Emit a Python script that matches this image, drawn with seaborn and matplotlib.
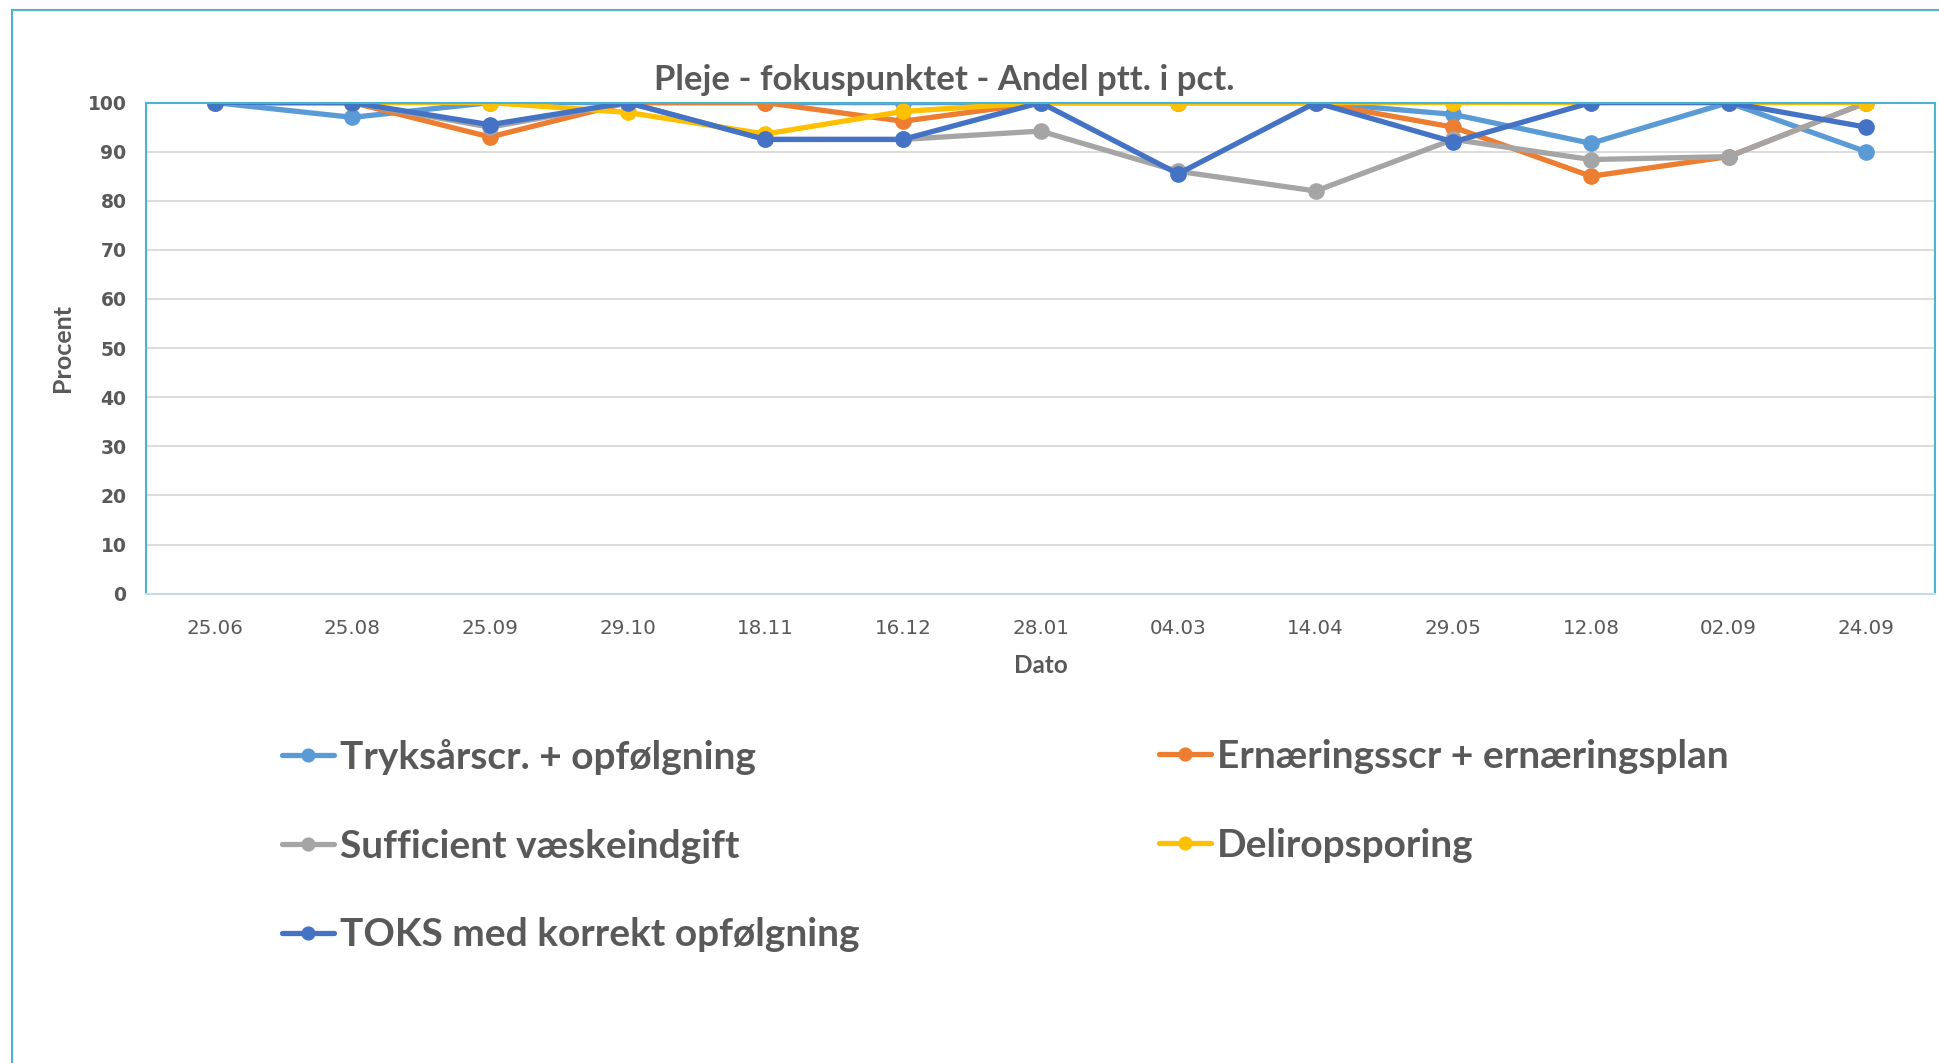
import matplotlib
matplotlib.use("Agg")
import matplotlib.pyplot as plt
import seaborn as sns
import pandas as pd
from matplotlib.patches import Rectangle

dates = ["25.06", "25.08", "25.09", "29.10", "18.11", "16.12", "28.01",
         "04.03", "14.04", "29.05", "12.08", "02.09", "24.09"]
tryksaar = [100, 97, 100, 100, 100, 100, 100, 100, 100, 97.6, 91.7, 100, 90]
ernaering = [100, 100, 93, 100, 100, 96.2, 100, 100, 100, 95, 85, 89, 100]
vaeske = [100, 100, 95, 100, 92.5, 92.5, 94.2, 86, 82, 92.5, 88.4, 89, 100]
delir = [100, 100, 100, 98, 93.6, 98.2, 100, 100, 100, 100, 100, 100, 100]
toks = [100, 100, 95.5, 100, 92.5, 92.5, 100, 85.5, 100, 92, 100, 100, 95]

series_names = ["Tryksårscr. + opfølgning", "Ernæringsscr + ernæringsplan",
                "Sufficient væskeindgift", "Deliropsporing",
                "TOKS med korrekt opfølgning"]
series_vals = [tryksaar, ernaering, vaeske, delir, toks]
colors = ["#5B9BD5", "#ED7D31", "#A5A5A5", "#FFC000", "#4472C4"]

sns.set_theme(style="white")
plt.rcParams['font.family'] = ['Lato', 'DejaVu Sans']

W, H = 1939, 1063
fig = plt.figure(figsize=(W / 100, H / 100), dpi=100)
ax = fig.add_axes([146 / W, 1 - 593.6 / H, (1935 - 146) / W, 491 / H])

txt = "#595959"
teal = "#4BB5CF"

for name, vals, c in zip(series_names, series_vals, colors):
    df = pd.DataFrame({"Dato": dates, "Procent": vals})
    sns.lineplot(data=df, x="Dato", y="Procent", ax=ax, color=c, lw=3.8,
                 marker="o", markersize=12, markeredgecolor=c,
                 markeredgewidth=0, label=name, sort=False)

ax.set_xlim(-0.5, len(dates) - 0.5)
ax.set_ylim(0, 100)
ax.set_yticks(range(0, 101, 10))
ax.yaxis.grid(True, color="#D9D9D9", lw=1.3)
ax.xaxis.grid(False)
ax.tick_params(axis="both", length=0)
for lab in ax.get_yticklabels():
    lab.set_family("DejaVu Sans")
    lab.set_fontweight("bold")
    lab.set_fontsize(13.5)
    lab.set_color(txt)
for lab in ax.get_xticklabels():
    lab.set_family("DejaVu Sans")
    lab.set_fontsize(14.3)
    lab.set_color(txt)
ax.tick_params(axis="y", pad=14)
ax.tick_params(axis="x", pad=18)

ax.set_ylabel("Procent", fontsize=18, fontweight="bold", color=txt, labelpad=10)
ax.set_xlabel("Dato", fontsize=17.5, fontweight="bold", color=txt, labelpad=12)

for side in ["left", "top", "right"]:
    ax.spines[side].set_color(teal)
    ax.spines[side].set_linewidth(1.5)
ax.spines["bottom"].set_color("#C5DCE3")
ax.spines["bottom"].set_linewidth(1.5)

handles, labels = ax.get_legend_handles_labels()
ax.get_legend().remove()

fig.text(944 / W, 1 - 80 / H, "Pleje - fokuspunktet - Andel ptt. i pct.",
         ha="center", va="center", fontsize=25, fontweight="bold", color=txt)

leg_kw = dict(frameon=False, handlelength=1.34, handletextpad=0.15,
              labelspacing=1.38, markerscale=0.85,
              prop={"family": "Lato", "weight": "bold", "size": 28})
idx1 = [0, 2, 4]
idx2 = [1, 3]
leg1 = fig.legend([handles[i] for i in idx1], [labels[i] for i in idx1],
                  loc="upper left", bbox_to_anchor=(247 / W, 1 - 704 / H), **leg_kw)
leg2 = fig.legend([handles[i] for i in idx2], [labels[i] for i in idx2],
                  loc="upper left", bbox_to_anchor=(1124 / W, 1 - 704 / H), **leg_kw)
for leg in (leg1, leg2):
    for t in leg.get_texts():
        t.set_color(txt)

fig.add_artist(Rectangle((12 / W, -0.05), 1.0, 1 - 10 / H + 0.05,
                         transform=fig.transFigure, fill=False,
                         edgecolor=teal, lw=1.5, clip_on=False))

fig.savefig("out.png", dpi=100, facecolor="white")
